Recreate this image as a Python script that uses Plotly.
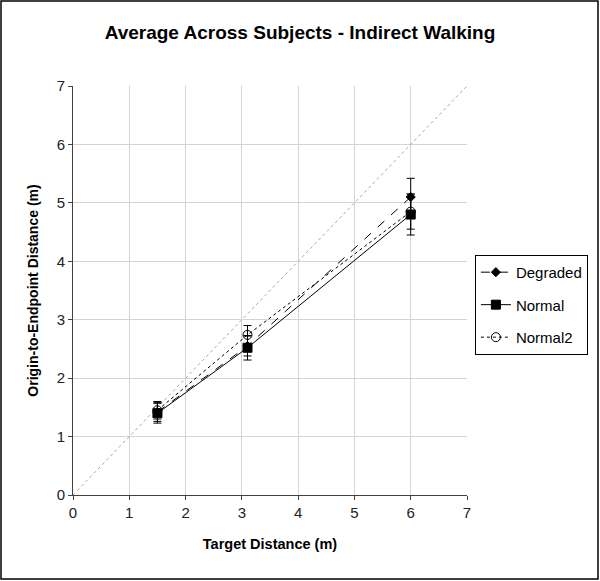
"""Average across subjects, indirect walking: endpoint distance vs target distance."""

import plotly.graph_objects as go

target = [1.5, 3.1, 6.0]

degraded = [1.42, 2.55, 5.10]
degraded_err = [0.16, 0.17, 0.32]

normal = [1.40, 2.52, 4.80]
normal_err = [0.17, 0.21, 0.35]

normal2 = [1.45, 2.74, 4.85]
normal2_err = [0.15, 0.16, 0.30]

ticks = [0, 1, 2, 3, 4, 5, 6, 7]

FONT = "Liberation Sans, Arial, sans-serif"

fig = go.Figure()

# identity line
fig.add_trace(go.Scatter(
    x=[ticks[0], ticks[-1]], y=[ticks[0], ticks[-1]], mode="lines",
    line=dict(color="#a6a6a6", width=1, dash="dot"), showlegend=False,
    hoverinfo="skip",
))

series = [
    ("Degraded", degraded, degraded_err, "dash", "diamond", 7),
    ("Normal", normal, normal_err, "solid", "square", 9),
    ("Normal2", normal2, normal2_err, "dot", "circle-open", 9),
]
for name, ys, errs, dash, symbol, size in series:
    fig.add_trace(go.Scatter(
        x=target, y=ys, name=name, legendgroup=name, mode="lines+markers",
        line=dict(color="black", width=1, dash=dash),
        marker=dict(symbol=symbol, size=size, color="black",
                    line=dict(color="black", width=1)),
        error_y=dict(type="data", array=errs, color="black", thickness=1, width=4),
    ))

axis = dict(
    range=[0, 7], tickvals=ticks, showgrid=True, gridcolor="#d4d4d4", gridwidth=1,
    showline=True, linecolor="#404040", linewidth=1, ticks="outside",
    ticklen=4, tickcolor="#404040", zeroline=False,
    tickfont=dict(family=FONT, size=15, color="#222"),
)

fig.update_layout(
    width=600, height=581,
    margin=dict(l=73, r=133, t=86, b=86),
    paper_bgcolor="white", plot_bgcolor="white",
    title=dict(text="<b>Average Across Subjects - Indirect Walking</b>",
               x=0.5, xanchor="center", y=0.945, yanchor="middle",
               font=dict(family=FONT, size=19, color="black")),
    xaxis=dict(axis, title=dict(text="<b>Target Distance (m)</b>",
                                font=dict(family=FONT, size=14.5, color="black"),
                                standoff=18)),
    yaxis=dict(axis, title=dict(text="<b>Origin-to-Endpoint Distance (m)</b>",
                                font=dict(family=FONT, size=14, color="black"),
                                standoff=14)),
    legend=dict(x=1.02, y=0.587, xanchor="left", yanchor="top",
                bordercolor="black", borderwidth=1, bgcolor="white",
                font=dict(family=FONT, size=15, color="black"),
                tracegroupgap=10, itemwidth=30),
    showlegend=True,
)

# outer frame round the whole picture
fig.add_shape(type="rect", xref="paper", yref="paper",
              x0=-72 / 394, x1=525 / 394, y0=-84 / 409, y1=494 / 409,
              line=dict(color="black", width=1.5))

fig.write_html(
    "out.html",
    config={"displayModeBar": False},
    post_script="document.body.style.margin='0';document.body.style.overflow='hidden';",
)
